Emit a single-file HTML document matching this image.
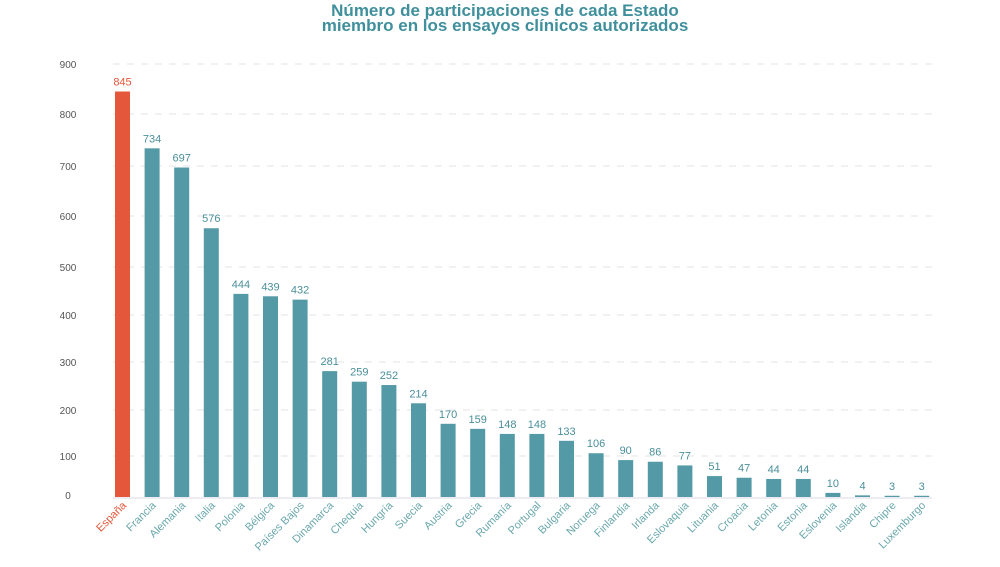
<!DOCTYPE html>
<html><head><meta charset="utf-8"><style>
body{margin:0;background:#fff;width:1000px;height:567px;overflow:hidden;font-family:"Liberation Sans",sans-serif}
svg{display:block}
</style></head><body>
<svg id="chart" width="1000" height="567">
<text x="505" y="16" text-anchor="middle" font-family="'Liberation Sans Narrow','Liberation Sans',sans-serif" font-weight="bold" font-size="17" fill="#3f8f9c">Número de participaciones de cada Estado</text>
<text x="505" y="31" text-anchor="middle" font-family="'Liberation Sans Narrow','Liberation Sans',sans-serif" font-weight="bold" font-size="17" fill="#3f8f9c">miembro en los ensayos clínicos autorizados</text>
<g id="grid"></g><g id="bars"></g><g id="xlabels"></g>
</svg>
<script>
const categories=["España","Francia","Alemania","Italia","Polonia","Bélgica","Países Bajos","Dinamarca","Chequia","Hungría","Suecia","Austria","Grecia","Rumanía","Portugal","Bulgaria","Noruega","Finlandia","Irlanda","Eslovaquia","Lituania","Croacia","Letonia","Estonia","Eslovenia","Islandia","Chipre","Luxemburgo"];
const values=[845,734,697,576,444,439,432,281,259,252,214,170,159,148,148,133,106,90,86,77,51,47,44,44,10,4,3,3];
const tickValues=[0,100,200,300,400,500,600,700,800,900];
const tickLabels=["0","100","200","300","400","500","600","700","800","900"];
// axis: piecewise through observed tick pixel positions
const tickPix=[497,456,410,362,315,267,216,166,114,64];
function y(v){for(let i=0;i<tickValues.length-1;i++){if(v<=tickValues[i+1]){const t=(v-tickValues[i])/(tickValues[i+1]-tickValues[i]);return tickPix[i]+t*(tickPix[i+1]-tickPix[i]);}}const n=tickValues.length-1;return tickPix[n]+(v-tickValues[n])*(tickPix[n]-tickPix[n-1])/(tickValues[n]-tickValues[n-1]);}
function x(i){return 115+i*29.6;}
const NS="http://www.w3.org/2000/svg";
const grid=document.getElementById('grid'),bars=document.getElementById('bars'),xl=document.getElementById('xlabels');
function mk(tag,attrs,parent){const e=document.createElementNS(NS,tag);for(const k in attrs)e.setAttribute(k,attrs[k]);parent.appendChild(e);return e;}
tickValues.forEach((v,i)=>{
  const yy=y(v);
  if(v>0){const l=mk('line',{x1:113,x2:932,y1:yy,y2:yy,stroke:'#e3e3e3','stroke-width':1,'stroke-dasharray':'7,7'},grid);
  
  }
  const t=mk('text',{x:68,y:yy+(v===0?2:4),'text-anchor':'middle','font-size':10,fill:'#555'},grid);
  t.textContent=tickLabels[i];
  
  
});
const base=mk('line',{x1:113,x2:932,y1:498,y2:498,stroke:'#e6e6ee','stroke-width':1.5},grid);


categories.forEach((c,i)=>{
  const col=i===0?'#e5573b':'#5499a6';
  const top=y(values[i]);
  const r=mk('rect',{x:x(i),y:top,width:15,height:497-top,fill:col},bars);
  
  
  const t=mk('text',{x:x(i)+7.5,y:top-6,'text-anchor':'middle','font-size':11,fill:i===0?'#e5573b':'#4a8f9b'},bars);
  t.textContent=values[i];
  
  
  const lx=x(i)+12,ly=506;
  const lt=mk('text',{x:lx,y:ly,'text-anchor':'end','font-size':11,fill:i===0?'#e5573b':'#6aa7ac',transform:'rotate(-45 '+lx+' '+ly+')'},xl);
  lt.textContent=c;
  
  
});
</script>
</body></html>
